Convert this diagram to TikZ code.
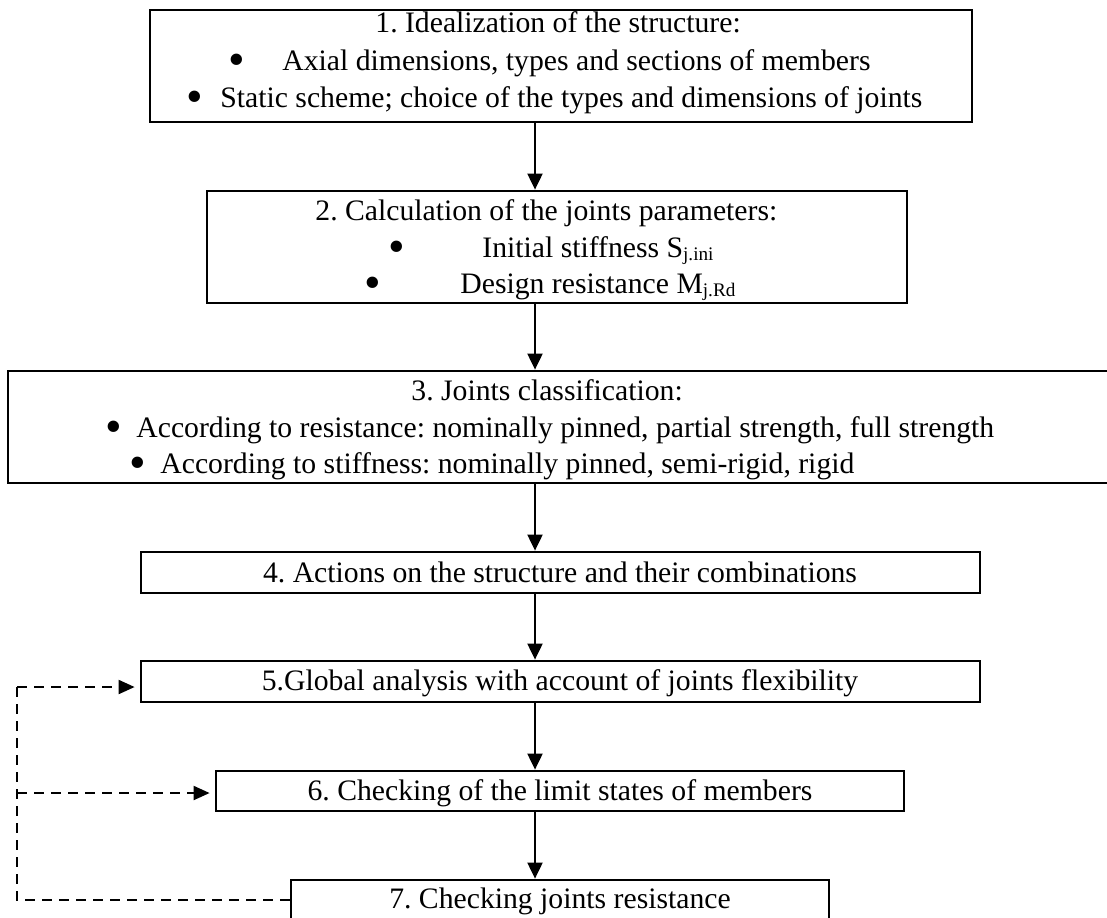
\documentclass[tikz,border=0pt]{standalone}
\usepackage{fontspec}
\setmainfont{Liberation Serif}
\usetikzlibrary{arrows.meta,fit}
\newcommand\sbs[1]{\raisebox{-0.12em}{\fontsize{9.6}{10}\selectfont #1}}
\newcommand\bigbul{\raisebox{-2.7pt}{\scalebox{1.6}{•}}}
\begin{document}
\frenchspacing
\begin{tikzpicture}[x=0.5pt,y=-0.5pt,
 box/.style={draw, line width=1.4pt, inner sep=0pt},
 txt/.style={inner sep=0pt, anchor=base west, font=\fontsize{14.85}{18}\selectfont},
 ctr/.style={inner sep=0pt, anchor=base, font=\fontsize{14.85}{18}\selectfont},
 bul/.style={inner sep=0pt, anchor=base, font=\fontsize{14.85}{18}\selectfont},
 arr/.style={line width=1pt, -{Triangle[length=8pt,width=7.5pt]}},
 fb/.style={line width=1pt, dash pattern=on 5pt off 3.5pt, -{Triangle[length=8pt,width=7pt]}, shorten >=2.5pt},
 fbl/.style={line width=1pt, dash pattern=on 5pt off 3.5pt},
]
\clip (0,0) rectangle (1107,917);
% boxes
\node[box, fit={(150,10)(972,122)}] (b1) {};
\node[box, fit={(207,191)(907,303)}] (b2) {};
\node[box, fit={(8,371)(1125,483)}] (b3) {};
\node[box, fit={(141,552)(980,593)}] (b4) {};
\node[box, fit={(141,661)(980,702)}] (b5) {};
\node[box, fit={(216,771)(904,811)}] (b6) {};
\node[box, fit={(291,880)(829,922)}] (b7) {};
% box 1 text
\node[txt] (t11) at (375,32) {1. Idealization of the structure:};
\node[bul] (u12) at (237,70) {\bigbul};
\node[txt] (t12) at (282,70) {Axial dimensions, types and sections of members};
\node[bul] (u13) at (195,107) {\bigbul};
\node[txt] (t13) at (220,107) {Static scheme; choice of the types and dimensions of joints};
% box 2 text
\node[txt] (t21) at (315,220) {2. Calculation of the joints parameters:};
\node[bul] (u22) at (397,257) {\bigbul};
\node[txt] (t22) at (482,257) {Initial stiffness S\sbs{j.ini}};
\node[bul] (u23) at (373,293) {\bigbul};
\node[txt] (t23) at (460,293) {Design resistance M\sbs{j.Rd}};
% box 3 text
\node[txt] (t31) at (411,400) {3. Joints classification:};
\node[bul] (u32) at (114,437) {\bigbul};
\node[txt] (t32) at (136,437) {According to resistance: nominally pinned, partial strength, full strength};
\node[bul] (u33) at (138,473) {\bigbul};
\node[txt] (t33) at (160,473) {According to stiffness: nominally pinned, semi-rigid, rigid};
% single-line boxes
\node[ctr] (t4) at (560,582) {4. Actions on the structure and their combinations};
\node[ctr] (t5) at (560,690) {5.Global analysis with account of joints flexibility};
\node[ctr] (t6) at (560,800) {6. Checking of the limit states of members};
\node[ctr] (t7) at (560,908) {7. Checking joints resistance};
% main arrows
\coordinate (ax) at (535,0);
\draw[arr] (b1.south -| ax) -- (b2.north -| ax);
\draw[arr] (b2.south -| ax) -- (b3.north -| ax);
\draw[arr] (b3.south -| ax) -- (b4.north -| ax);
\draw[arr] (b4.south -| ax) -- (b5.north -| ax);
\draw[arr] (b5.south -| ax) -- (b6.north -| ax);
\draw[arr] (b6.south -| ax) -- (b7.north -| ax);
% feedback
\coordinate (c7) at (17,900);
\coordinate (c6) at (17,793);
\coordinate (c5) at (17,687);
\draw[fbl] (b7.west |- c7) -- (c7) -- (c5);
\draw[fb] (c5) -- (b5.west |- c5);
\draw[fb] (c6) -- (b6.west |- c6);
\end{tikzpicture}
\end{document}
